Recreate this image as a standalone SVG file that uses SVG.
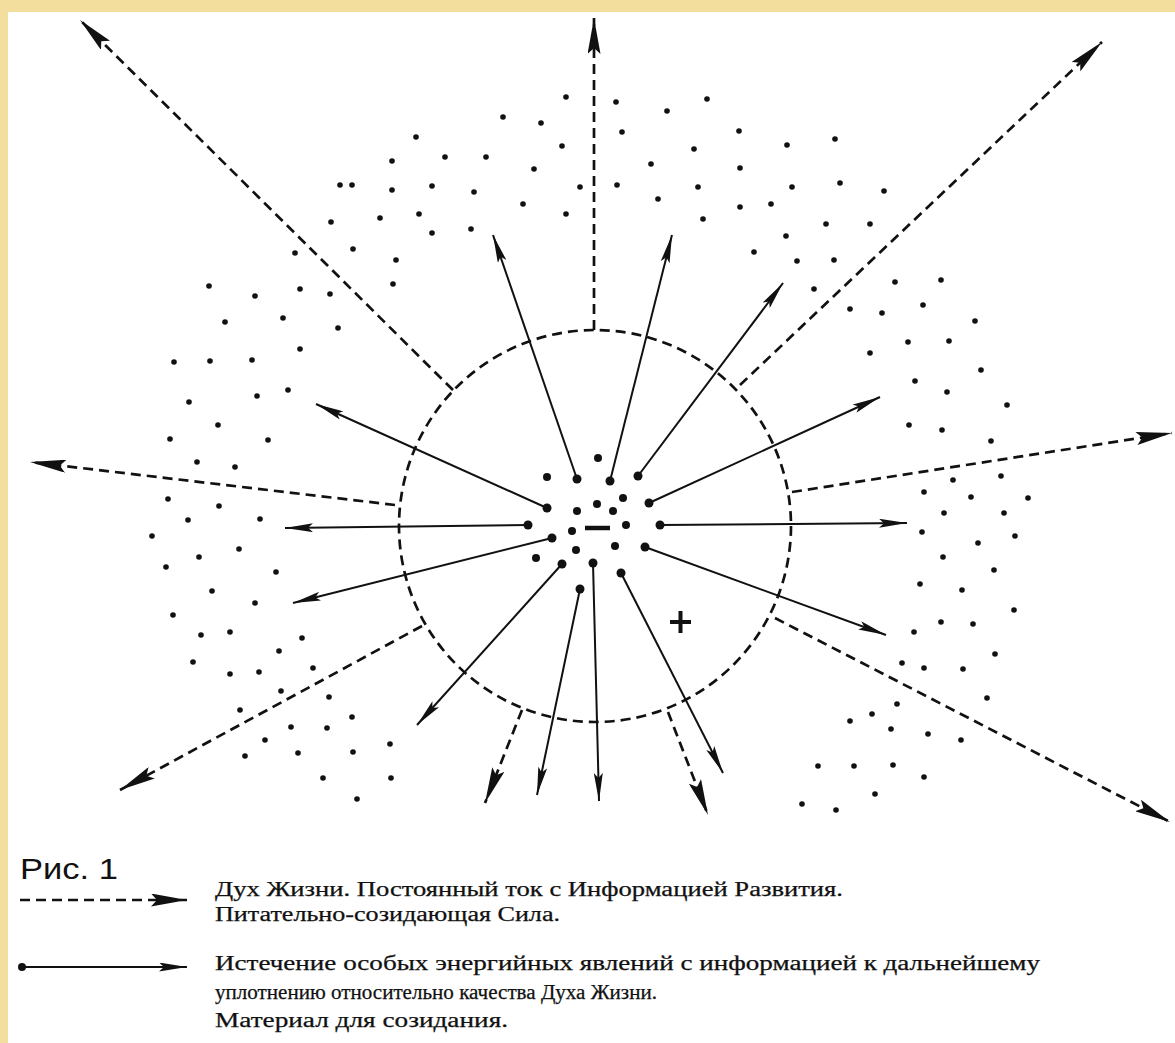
<svg xmlns="http://www.w3.org/2000/svg" width="1175" height="1043" viewBox="0 0 1175 1043">
<style>
.dl{fill:none;stroke:#111;stroke-width:2.7;stroke-dasharray:10 6}
.sl{fill:none;stroke:#111;stroke-width:2}
.cd{fill:#111}
.fd{fill:#111}
.lg{font-family:"Liberation Serif","DejaVu Serif",serif;font-size:20px;fill:#111;stroke:#111;stroke-width:0.25}
</style>
<defs>
<marker id="hd" viewBox="0 0 36 13" refX="36" refY="6.5" markerWidth="36" markerHeight="13" orient="auto" markerUnits="userSpaceOnUse"><path d="M0,0 L36,6.5 L0,13 L6,6.5 Z" fill="#111"/></marker>
<marker id="hs" viewBox="0 0 28 9" refX="28" refY="4.5" markerWidth="28" markerHeight="9" orient="auto" markerUnits="userSpaceOnUse"><path d="M0,0 L28,4.5 L0,9 L5,4.5 Z" fill="#111"/></marker>
</defs>
<rect x="0" y="0" width="1175" height="1043" fill="#F3DE9E"/>
<rect x="8" y="12" width="1167" height="1031" fill="#fff"/>

<g id="boundary">
<circle cx="595" cy="526" r="196" class="dl"/>
</g>

<g id="connectors">
<g id="spirit-flows">
<line x1="594" y1="330" x2="594" y2="18" class="dl" marker-end="url(#hd)"/>
<line x1="453" y1="390" x2="80" y2="20" class="dl" marker-end="url(#hd)"/>
<line x1="740" y1="385" x2="1102" y2="42" class="dl" marker-end="url(#hd)"/>
<line x1="395" y1="505" x2="30" y2="462" class="dl" marker-end="url(#hd)"/>
<line x1="792" y1="492" x2="1172" y2="433" class="dl" marker-end="url(#hd)"/>
<line x1="422" y1="626" x2="120" y2="790" class="dl" marker-end="url(#hd)"/>
<line x1="775" y1="618" x2="1170" y2="822" class="dl" marker-end="url(#hd)"/>
<line x1="522" y1="710" x2="485" y2="803" class="dl" marker-end="url(#hd)"/>
<line x1="668" y1="712" x2="708" y2="815" class="dl" marker-end="url(#hd)"/>
</g>
<g id="emanations">
<line x1="577" y1="479" x2="493" y2="235" class="sl" marker-end="url(#hs)"/>
<line x1="610" y1="481" x2="672" y2="235" class="sl" marker-end="url(#hs)"/>
<line x1="638" y1="476" x2="783" y2="283" class="sl" marker-end="url(#hs)"/>
<line x1="547" y1="508" x2="316" y2="404" class="sl" marker-end="url(#hs)"/>
<line x1="649" y1="503" x2="880" y2="397" class="sl" marker-end="url(#hs)"/>
<line x1="528" y1="525" x2="285" y2="528" class="sl" marker-end="url(#hs)"/>
<line x1="660" y1="525" x2="907" y2="523" class="sl" marker-end="url(#hs)"/>
<line x1="552" y1="538" x2="293" y2="603" class="sl" marker-end="url(#hs)"/>
<line x1="645" y1="547" x2="886" y2="635" class="sl" marker-end="url(#hs)"/>
<line x1="562" y1="564" x2="417" y2="725" class="sl" marker-end="url(#hs)"/>
<line x1="580" y1="589" x2="537" y2="795" class="sl" marker-end="url(#hs)"/>
<line x1="593" y1="563" x2="599" y2="801" class="sl" marker-end="url(#hs)"/>
<line x1="621" y1="573" x2="723" y2="773" class="sl" marker-end="url(#hs)"/>
</g>
</g>

<g id="center">
<g class="cd">
<circle cx="577" cy="479" r="4.5"/><circle cx="610" cy="481" r="4.5"/><circle cx="638" cy="476" r="4.5"/>
<circle cx="547" cy="508" r="4.5"/><circle cx="649" cy="503" r="4.5"/><circle cx="528" cy="525" r="4.5"/>
<circle cx="660" cy="525" r="4.5"/><circle cx="552" cy="538" r="4.5"/><circle cx="645" cy="547" r="4.5"/>
<circle cx="562" cy="564" r="4.5"/><circle cx="580" cy="589" r="4.5"/><circle cx="593" cy="563" r="4.5"/>
<circle cx="621" cy="573" r="4.5"/>
<circle cx="598" cy="458" r="4"/><circle cx="547" cy="477" r="4"/><circle cx="623" cy="498" r="4"/>
<circle cx="597" cy="504" r="4"/><circle cx="577" cy="511" r="4"/><circle cx="613" cy="511" r="4"/>
<circle cx="572" cy="531" r="4"/><circle cx="626" cy="525" r="4"/><circle cx="576" cy="550" r="4"/>
<circle cx="615" cy="546" r="4"/><circle cx="536" cy="558" r="4"/>
</g>
<line id="minus" x1="585" y1="528" x2="610" y2="528" stroke="#111" stroke-width="4.5"/>
</g>

<g id="plus">
<path d="M670,622 H691 M680.5,611 V633" stroke="#111" stroke-width="4" fill="none"/>
</g>

<g id="field" class="fd">
<circle cx="566" cy="97" r="2.8"/><circle cx="616" cy="102" r="2.8"/><circle cx="707" cy="99" r="2.8"/>
<circle cx="503" cy="117" r="2.8"/><circle cx="541" cy="123" r="2.8"/><circle cx="667" cy="111" r="2.8"/>
<circle cx="622" cy="132" r="2.8"/><circle cx="739" cy="131" r="2.8"/><circle cx="835" cy="139" r="2.8"/>
<circle cx="416" cy="137" r="2.8"/><circle cx="562" cy="146" r="2.8"/><circle cx="694" cy="149" r="2.8"/>
<circle cx="787" cy="145" r="2.8"/><circle cx="392" cy="161" r="2.8"/><circle cx="445" cy="157" r="2.8"/>
<circle cx="486" cy="157" r="2.8"/><circle cx="534" cy="169" r="2.8"/><circle cx="651" cy="164" r="2.8"/>
<circle cx="740" cy="168" r="2.8"/><circle cx="340" cy="185" r="2.8"/><circle cx="352" cy="185" r="2.8"/>
<circle cx="392" cy="190" r="2.8"/><circle cx="432" cy="186" r="2.8"/><circle cx="474" cy="192" r="2.8"/>
<circle cx="580" cy="187" r="2.8"/><circle cx="617" cy="185" r="2.8"/><circle cx="698" cy="187" r="2.8"/>
<circle cx="792" cy="187" r="2.8"/><circle cx="840" cy="183" r="2.8"/><circle cx="884" cy="191" r="2.8"/>
<circle cx="658" cy="199" r="2.8"/><circle cx="740" cy="207" r="2.8"/><circle cx="771" cy="204" r="2.8"/>
<circle cx="523" cy="204" r="2.8"/><circle cx="566" cy="214" r="2.8"/><circle cx="331" cy="222" r="2.8"/>
<circle cx="380" cy="218" r="2.8"/><circle cx="419" cy="214" r="2.8"/><circle cx="703" cy="219" r="2.8"/>
<circle cx="826" cy="224" r="2.8"/><circle cx="870" cy="224" r="2.8"/><circle cx="432" cy="233" r="2.8"/>
<circle cx="471" cy="229" r="2.8"/><circle cx="786" cy="236" r="2.8"/><circle cx="295" cy="253" r="2.8"/>
<circle cx="353" cy="249" r="2.8"/><circle cx="396" cy="260" r="2.8"/><circle cx="754" cy="252" r="2.8"/>
<circle cx="797" cy="261" r="2.8"/><circle cx="834" cy="260" r="2.8"/><circle cx="300" cy="289" r="2.8"/>
<circle cx="330" cy="294" r="2.8"/><circle cx="393" cy="284" r="2.8"/><circle cx="814" cy="289" r="2.8"/>
<circle cx="850" cy="309" r="2.8"/><circle cx="882" cy="313" r="2.8"/><circle cx="338" cy="328" r="2.8"/>
<circle cx="209" cy="286" r="2.8"/><circle cx="255" cy="296" r="2.8"/><circle cx="225" cy="322" r="2.8"/>
<circle cx="283" cy="318" r="2.8"/><circle cx="300" cy="349" r="2.8"/><circle cx="174" cy="362" r="2.8"/>
<circle cx="210" cy="361" r="2.8"/><circle cx="252" cy="360" r="2.8"/><circle cx="288" cy="390" r="2.8"/>
<circle cx="257" cy="396" r="2.8"/><circle cx="189" cy="402" r="2.8"/><circle cx="218" cy="425" r="2.8"/>
<circle cx="170" cy="439" r="2.8"/><circle cx="268" cy="440" r="2.8"/><circle cx="197" cy="462" r="2.8"/>
<circle cx="235" cy="467" r="2.8"/><circle cx="168" cy="499" r="2.8"/><circle cx="219" cy="506" r="2.8"/>
<circle cx="188" cy="520" r="2.8"/><circle cx="260" cy="519" r="2.8"/><circle cx="152" cy="536" r="2.8"/>
<circle cx="239" cy="549" r="2.8"/><circle cx="199" cy="557" r="2.8"/>
<circle cx="166" cy="567" r="2.8"/><circle cx="276" cy="572" r="2.8"/><circle cx="212" cy="591" r="2.8"/>
<circle cx="255" cy="603" r="2.8"/><circle cx="173" cy="615" r="2.8"/><circle cx="201" cy="635" r="2.8"/>
<circle cx="230" cy="632" r="2.8"/><circle cx="302" cy="638" r="2.8"/><circle cx="279" cy="651" r="2.8"/>
<circle cx="193" cy="662" r="2.8"/><circle cx="230" cy="674" r="2.8"/><circle cx="259" cy="672" r="2.8"/>
<circle cx="313" cy="668" r="2.8"/><circle cx="281" cy="691" r="2.8"/><circle cx="329" cy="697" r="2.8"/>
<circle cx="240" cy="710" r="2.8"/><circle cx="352" cy="717" r="2.8"/><circle cx="291" cy="727" r="2.8"/>
<circle cx="327" cy="728" r="2.8"/><circle cx="265" cy="740" r="2.8"/><circle cx="245" cy="756" r="2.8"/>
<circle cx="298" cy="753" r="2.8"/><circle cx="353" cy="752" r="2.8"/><circle cx="390" cy="744" r="2.8"/>
<circle cx="323" cy="778" r="2.8"/><circle cx="391" cy="778" r="2.8"/><circle cx="357" cy="799" r="2.8"/>
<circle cx="895" cy="282" r="2.8"/><circle cx="941" cy="280" r="2.8"/><circle cx="923" cy="305" r="2.8"/>
<circle cx="975" cy="321" r="2.8"/><circle cx="908" cy="342" r="2.8"/><circle cx="949" cy="341" r="2.8"/>
<circle cx="870" cy="353" r="2.8"/><circle cx="981" cy="370" r="2.8"/><circle cx="915" cy="381" r="2.8"/>
<circle cx="947" cy="392" r="2.8"/><circle cx="1007" cy="405" r="2.8"/><circle cx="909" cy="425" r="2.8"/>
<circle cx="942" cy="430" r="2.8"/><circle cx="991" cy="441" r="2.8"/><circle cx="1001" cy="476" r="2.8"/>
<circle cx="953" cy="480" r="2.8"/><circle cx="924" cy="492" r="2.8"/><circle cx="971" cy="497" r="2.8"/>
<circle cx="1028" cy="498" r="2.8"/>
<circle cx="944" cy="513" r="2.8"/><circle cx="1004" cy="513" r="2.8"/><circle cx="922" cy="532" r="2.8"/>
<circle cx="978" cy="543" r="2.8"/><circle cx="1015" cy="536" r="2.8"/><circle cx="943" cy="557" r="2.8"/>
<circle cx="994" cy="570" r="2.8"/><circle cx="920" cy="584" r="2.8"/><circle cx="962" cy="590" r="2.8"/>
<circle cx="1014" cy="610" r="2.8"/><circle cx="941" cy="622" r="2.8"/><circle cx="973" cy="624" r="2.8"/>
<circle cx="914" cy="632" r="2.8"/><circle cx="995" cy="654" r="2.8"/><circle cx="902" cy="663" r="2.8"/>
<circle cx="924" cy="668" r="2.8"/><circle cx="963" cy="669" r="2.8"/><circle cx="987" cy="698" r="2.8"/>
<circle cx="897" cy="704" r="2.8"/><circle cx="872" cy="714" r="2.8"/><circle cx="850" cy="721" r="2.8"/>
<circle cx="891" cy="729" r="2.8"/><circle cx="928" cy="734" r="2.8"/><circle cx="961" cy="740" r="2.8"/>
<circle cx="818" cy="766" r="2.8"/><circle cx="854" cy="766" r="2.8"/><circle cx="893" cy="765" r="2.8"/>
<circle cx="924" cy="777" r="2.8"/><circle cx="875" cy="794" r="2.8"/><circle cx="802" cy="804" r="2.8"/>
<circle cx="836" cy="810" r="2.8"/>
</g>

<g id="legend">
<text x="20" y="879" font-family="'Liberation Sans','DejaVu Sans',sans-serif" font-size="30" fill="#111" textLength="98" lengthAdjust="spacingAndGlyphs">Рис. 1</text>
<g id="legend-spirit">
<line x1="20" y1="900" x2="187" y2="900" class="dl" stroke-dasharray="7 6" marker-end="url(#hd)"/>
<text class="lg" x="215" y="896" textLength="628" lengthAdjust="spacingAndGlyphs">Дух Жизни. Постоянный ток с Информацией Развития.</text>
<text class="lg" x="215" y="921" textLength="345" lengthAdjust="spacingAndGlyphs">Питательно-созидающая Сила.</text>
</g>
<g id="legend-emanation">
<circle cx="22" cy="967" r="4" class="cd"/>
<line x1="22" y1="967" x2="187" y2="967" class="sl" marker-end="url(#hs)"/>
<text class="lg" x="215" y="970" textLength="825" lengthAdjust="spacingAndGlyphs">Истечение особых энергийных явлений с информацией к дальнейшему</text>
<text class="lg" x="215" y="999" textLength="442" lengthAdjust="spacingAndGlyphs">уплотнению относительно качества Духа Жизни.</text>
<text class="lg" x="215" y="1027" textLength="293" lengthAdjust="spacingAndGlyphs">Материал для созидания.</text>
</g>
</g>
</svg>
